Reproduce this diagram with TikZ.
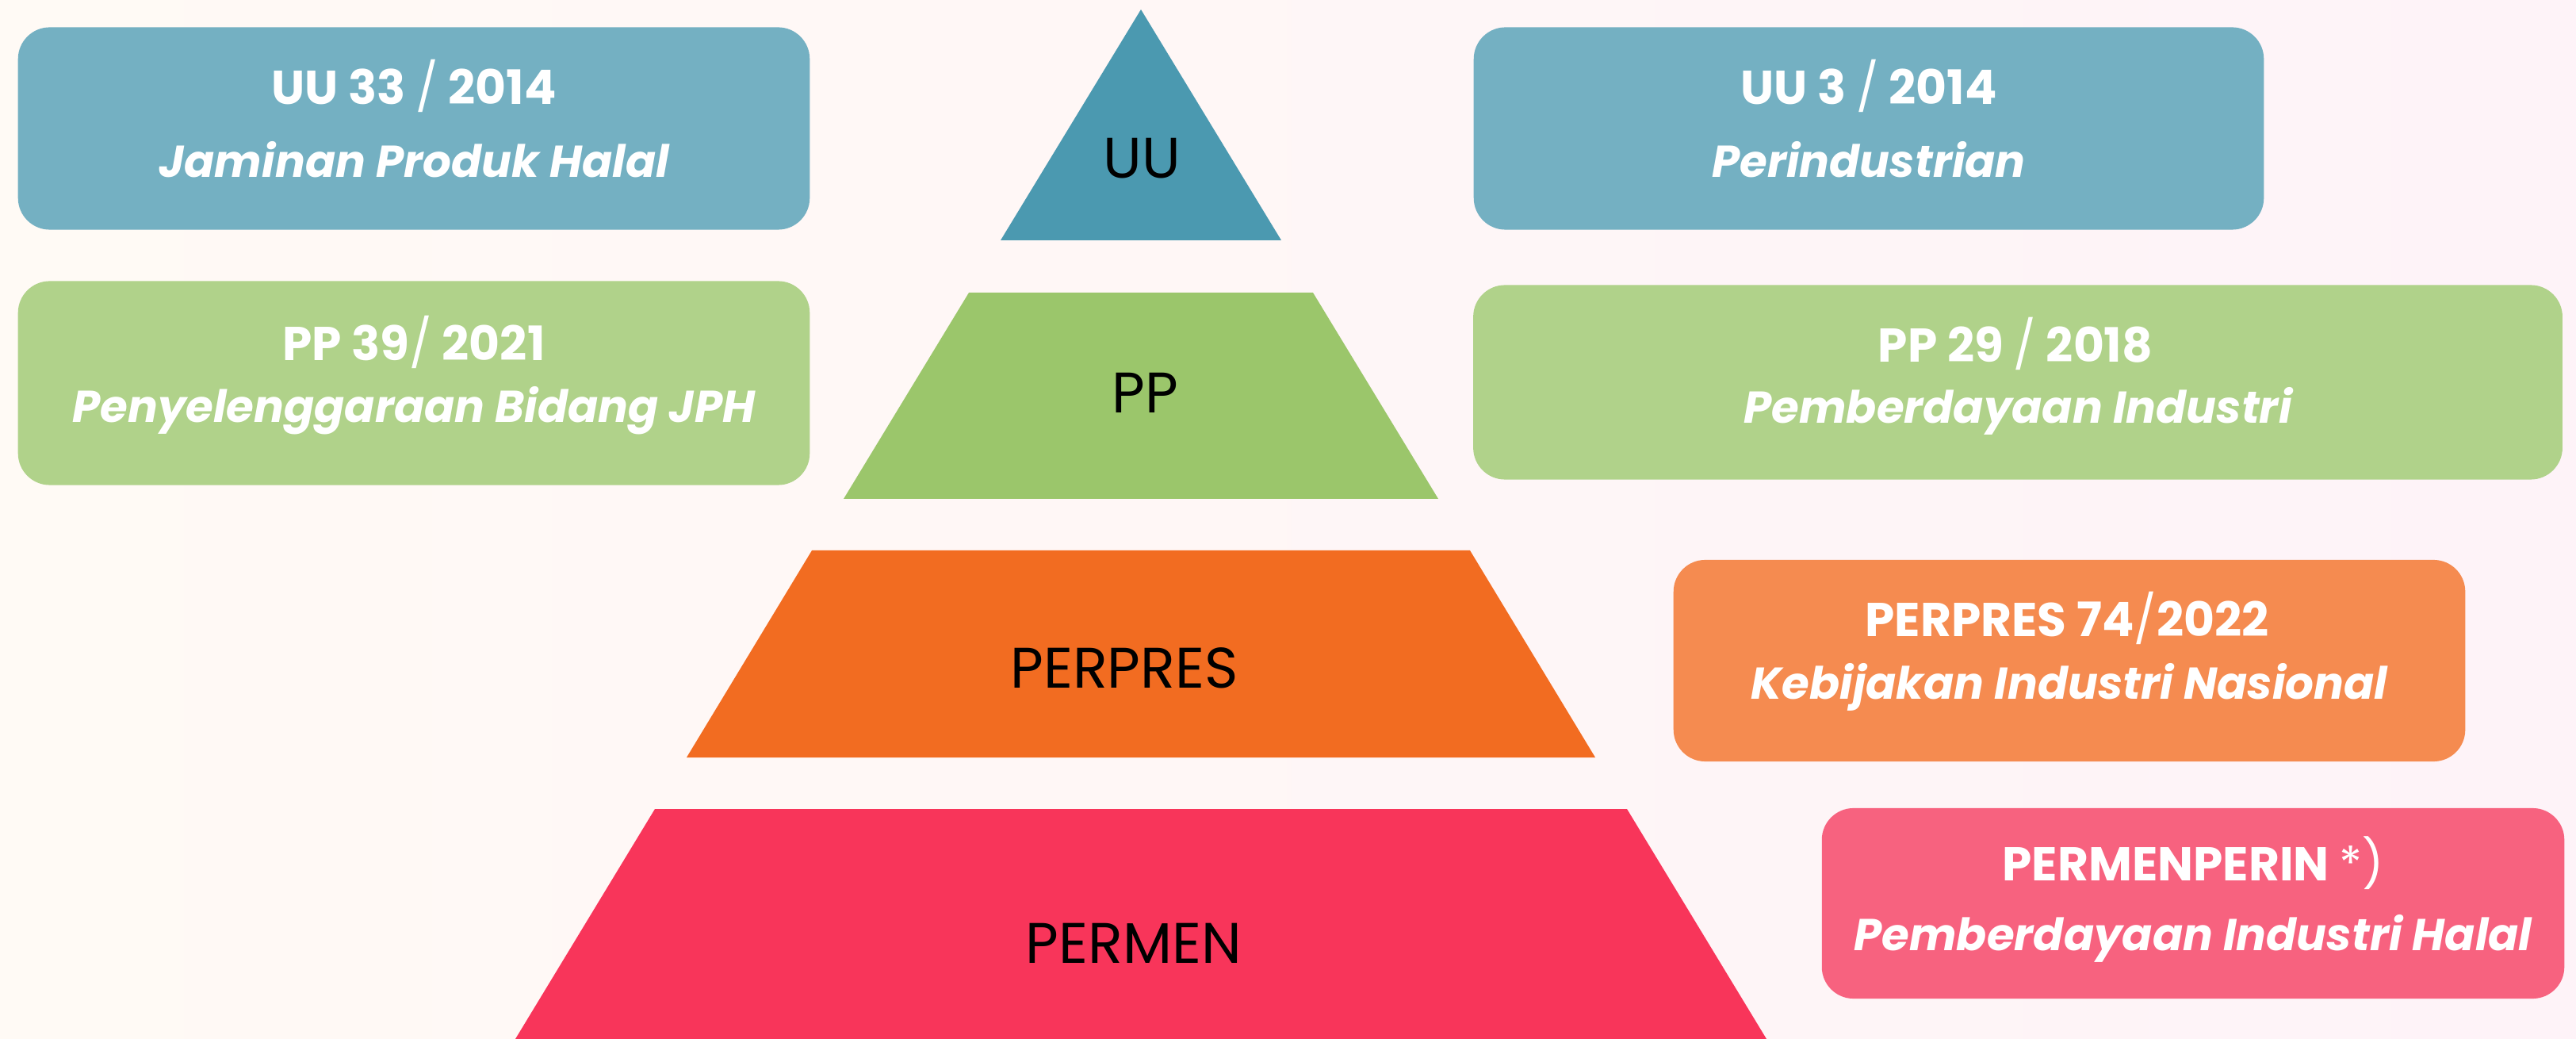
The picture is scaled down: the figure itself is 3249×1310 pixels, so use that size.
\documentclass[tikz,border=0pt]{standalone}
\usepackage{fontspec}
\setmainfont{Poppins}
\definecolor{latarkiri}{HTML}{FFFAF5}
\definecolor{latarkanan}{HTML}{FEF3F8}
\definecolor{biruKotak}{HTML}{74B0C2}
\definecolor{biruTingkat}{HTML}{4B99B0}
\definecolor{hijauKotak}{HTML}{B0D28A}
\definecolor{hijauTingkat}{HTML}{9BC66B}
\definecolor{oranyeKotak}{HTML}{F58B50}
\definecolor{oranyeTingkat}{HTML}{F26C21}
\definecolor{merahKotak}{HTML}{F7627F}
\definecolor{merahTingkat}{HTML}{F8355A}
\tikzset{
  kotak/.style={fill=#1, rounded corners=4mm, inner sep=0pt},
  judul/.style={text=white, font=\bfseries\fontsize{17}{20}\selectfont},
  subjudul/.style={text=white, font=\bfseries\itshape\fontsize{16}{19}\selectfont},
  tingkat/.style={text=black, font=\fontsize{20.5}{24}\selectfont}
}
\begin{document}
\begin{tikzpicture}[x=0.01cm, y=-0.01cm]
\useasboundingbox (0,0) rectangle (3249,1310);
\shade[left color=latarkiri, right color=latarkanan] (0,0) rectangle (3249,1310);

% piramida
\fill[biruTingkat] (1439,12) -- (1616,303) -- (1262,303) -- cycle;
\fill[hijauTingkat] (1222,369) -- (1656,369) -- (1814,629) -- (1064,629) -- cycle;
\fill[oranyeTingkat] (1024,694) -- (1854,694) -- (2012,955) -- (866,955) -- cycle;
\fill[merahTingkat] (826,1020) -- (2052,1020) -- (2228,1310) -- (650,1310) -- cycle;
\node[tingkat] (uu) at (1440,200) {UU};
\node[tingkat] (pp) at (1444,495) {PP};
\node[tingkat] (perpres) at (1418,842) {PERPRES};
\node[tingkat] (permen) at (1430,1189) {PERMEN};

% kotak kiri
\node[kotak=biruKotak, minimum width=9.98cm, minimum height=2.55cm] (uuhalal) at (522,162) {};
\node[judul] (uuhalalj) at (522,108) {UU 33 {\mdseries/} 2014};
\node[subjudul] (uuhalals) at (522,201) {Jaminan Produk Halal};

\node[kotak=hijauKotak, minimum width=9.98cm, minimum height=2.57cm] (pphalal) at (522,483) {};
\node[judul] (pphalalj) at (522,431) {PP 39{\mdseries/} 2021};
\node[subjudul] (pphalals) at (522,518) {Penyelenggaraan Bidang JPH};

% kotak kanan
\node[kotak=biruKotak, minimum width=9.96cm, minimum height=2.55cm] (uuind) at (2357,162) {};
\node[judul] (uuindj) at (2357,108) {UU 3 {\mdseries/} 2014};
\node[subjudul] (uuinds) at (2357,201) {Perindustrian};

\node[kotak=hijauKotak, minimum width=13.73cm, minimum height=2.45cm] (ppind) at (2545,482) {};
\node[judul] (ppindj) at (2542,433) {PP 29 {\mdseries/} 2018};
\node[subjudul] (ppinds) at (2545,518) {Pemberdayaan Industri};

\node[kotak=oranyeKotak, minimum width=9.98cm, minimum height=2.54cm] (perpresind) at (2610,833) {};
\node[judul] (perpresindj) at (2607,779) {PERPRES 74{\mdseries/}2022};
\node[subjudul] (perpresinds) at (2610,866) {Kebijakan Industri Nasional};

\node[kotak=merahKotak, minimum width=9.36cm, minimum height=2.40cm] (permenind) at (2766,1139) {};
\node[judul] (permenindj) at (2766,1088) {PERMENPERIN {\mdseries*)}};
\node[subjudul] (permeninds) at (2766,1183) {Pemberdayaan Industri Halal};
\end{tikzpicture}
\end{document}
